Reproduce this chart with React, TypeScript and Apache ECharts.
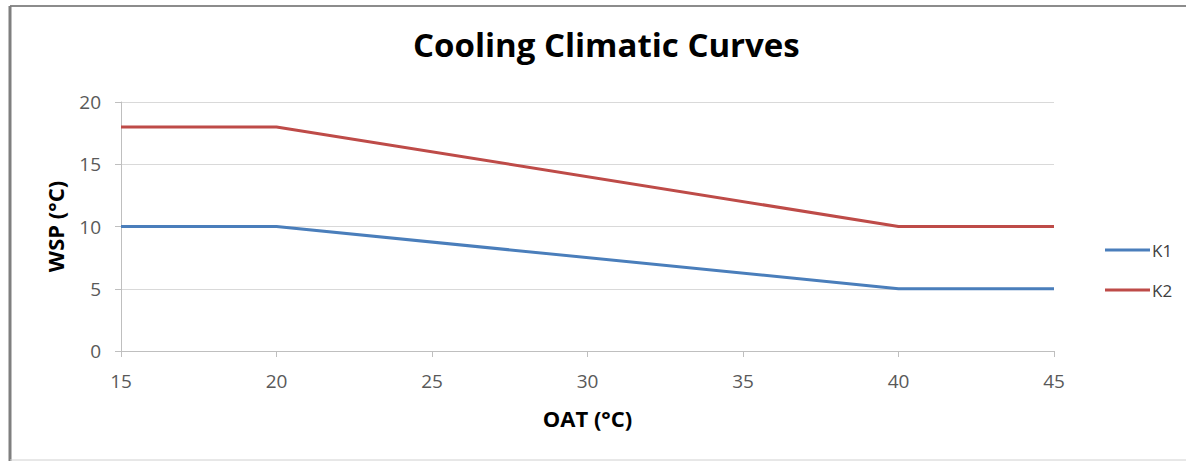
import React, { useEffect, useRef } from "react";
import * as echarts from "echarts";

const k1Data: [number, number][] = [[15, 10], [20, 10], [40, 5], [45, 5]];
const k2Data: [number, number][] = [[15, 18], [20, 18], [40, 10], [45, 10]];
const seriesNames = ["K1", "K2"];
const titleText = "Cooling Climatic Curves";
const xName = "OAT (°C)";
const yName = "WSP (°C)";

export default function App() {
  const ref = useRef<HTMLDivElement>(null);
  useEffect(() => {
    if (!ref.current) return;
    const chart = echarts.init(ref.current, null, { renderer: "svg" });
    const font = "Open Sans";
    chart.setOption({
      animation: false,
      backgroundColor: "#ffffff",
      title: {
        text: titleText,
        left: 408,
        top: 23,
        textStyle: { fontFamily: font, fontSize: 33, fontWeight: "bold", color: "#000" },
      },
      grid: { left: 121, top: 102, right: 132, bottom: 110 },
      legend: {
        orient: "vertical",
        left: 1100,
        top: 235,
        itemGap: 20,
        itemWidth: 45,
        itemHeight: 3,
        icon: "rect",
        textStyle: { fontFamily: font, fontSize: 17, lineHeight: 20, color: "#404040", padding: [0, 0, 0, -3] },
        data: seriesNames,
      },
      xAxis: {
        type: "value",
        min: 15,
        max: 45,
        interval: 5,
        name: xName,
        nameLocation: "middle",
        nameGap: 56,
        nameTextStyle: { fontFamily: font, fontSize: 22, fontWeight: "bold", color: "#000" },
        axisLine: { show: true, lineStyle: { color: "#bfbfbf", width: 1 } },
        axisTick: { show: true, length: 6, lineStyle: { color: "#bfbfbf" } },
        axisLabel: { fontFamily: font, fontSize: 19, color: "#595959", margin: 20 },
        splitLine: { show: false },
      },
      yAxis: {
        type: "value",
        min: 0,
        max: 20,
        interval: 5,
        name: yName,
        nameLocation: "middle",
        nameGap: 55,
        nameRotate: 90,
        nameTextStyle: { fontFamily: font, fontSize: 22, fontWeight: "bold", color: "#000" },
        axisLine: { show: true, lineStyle: { color: "#bfbfbf", width: 1 } },
        axisTick: { show: true, length: 6, lineStyle: { color: "#bfbfbf" } },
        axisLabel: { fontFamily: font, fontSize: 19, color: "#595959", margin: 20 },
        splitLine: { show: true, lineStyle: { color: "#d9d9d9", width: 1 } },
      },
      series: [
        {
          name: seriesNames[0],
          type: "line",
          data: k1Data,
          symbol: "none",
          lineStyle: { color: "#4a7ebb", width: 3 },
          itemStyle: { color: "#4a7ebb" },
        },
        {
          name: seriesNames[1],
          type: "line",
          data: k2Data,
          symbol: "none",
          lineStyle: { color: "#be4b48", width: 3 },
          itemStyle: { color: "#be4b48" },
        },
      ],
      graphic: [
        { type: "line", shape: { x1: 10, y1: 6, x2: 1186, y2: 6 }, style: { stroke: "#8c8c8c", lineWidth: 2 } },
        { type: "line", shape: { x1: 10, y1: 6, x2: 10, y2: 461 }, style: { stroke: "#7f7f7f", lineWidth: 3 } },
        { type: "line", shape: { x1: 10, y1: 460, x2: 1186, y2: 460 }, style: { stroke: "#d0d0d0", lineWidth: 1 } },
      ],
    });
    return () => chart.dispose();
  }, []);
  return (
    <div
      ref={ref}
      style={{ position: "absolute", left: 0, top: 0, width: 1186, height: 461 }}
    />
  );
}
